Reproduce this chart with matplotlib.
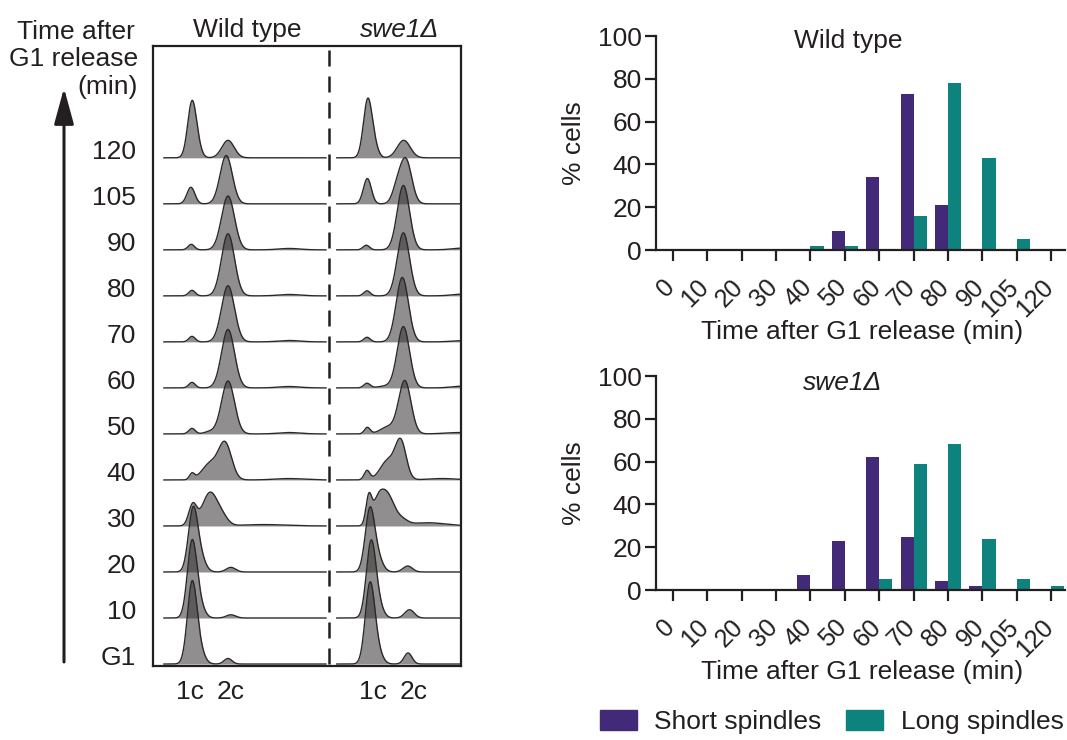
import matplotlib
matplotlib.use("Agg")
import matplotlib.pyplot as plt
import matplotlib.transforms as mtransforms
import numpy as np
from matplotlib.patches import FancyArrowPatch, Patch

plt.rcParams["font.family"] = ["Liberation Sans", "DejaVu Sans"]
plt.rcParams["font.size"] = 19
plt.rcParams["text.color"] = "#231f20"
plt.rcParams["axes.labelcolor"] = "#231f20"
plt.rcParams["xtick.color"] = "#231f20"
plt.rcParams["ytick.color"] = "#231f20"

PURPLE = "#432a78"
TEAL = "#0e827c"
INK = "#231f20"

# ---- spindle counts (% cells) per time point ----
times = ["0", "10", "20", "30", "40", "50", "60", "70", "80", "90", "105", "120"]
wt_short = [0, 0, 0, 0, 0, 9, 34, 73, 21, 0, 0, 0]
wt_long = [0, 0, 0, 0, 2, 2, 0, 16, 78, 43, 5, 0]
swe1_short = [0, 0, 0, 0, 7, 23, 62, 25, 4, 2, 0, 0]
swe1_long = [0, 0, 0, 0, 0, 0, 5, 59, 68, 24, 5, 2]

# ---- DNA content profiles, bottom row first ----
# each peak: (DNA content in c, height in row units, width in c)
profile_rows = ["G1", "10", "20", "30", "40", "50", "60", "70", "80", "90", "105", "120"]
wt_peaks = [
    [(1.0, 1.70, 0.13), (1.2, 0.30, 0.14), (2.0, 0.12, 0.11)],
    [(1.0, 1.60, 0.13), (1.2, 0.28, 0.14), (2.08, 0.07, 0.13)],
    [(1.03, 1.33, 0.13), (1.24, 0.28, 0.14), (2.08, 0.10, 0.13)],
    [(1.02, 0.45, 0.11), (1.5, 0.72, 0.21), (1.85, 0.15, 0.16), (3.0, 0.03, 0.6)],
    [(1.0, 0.13, 0.07), (1.5, 0.35, 0.22), (1.92, 0.78, 0.18), (3.7, 0.03, 0.4)],
    [(1.0, 0.12, 0.09), (1.5, 0.05, 0.15), (2.0, 1.15, 0.18), (3.7, 0.03, 0.3)],
    [(1.0, 0.12, 0.09), (2.0, 1.27, 0.18), (3.7, 0.03, 0.3)],
    [(1.0, 0.12, 0.09), (2.0, 1.22, 0.18), (3.7, 0.03, 0.3)],
    [(1.0, 0.12, 0.09), (2.0, 1.35, 0.18), (3.7, 0.03, 0.3)],
    [(0.98, 0.12, 0.09), (2.0, 1.17, 0.18), (3.7, 0.03, 0.3)],
    [(0.97, 0.36, 0.11), (1.95, 1.05, 0.17)],
    [(1.0, 1.2, 0.12), (1.17, 0.15, 0.11), (2.0, 0.38, 0.17)],
]
swe1_peaks = [
    [(1.0, 1.68, 0.13), (1.2, 0.28, 0.14), (2.06, 0.24, 0.11)],
    [(1.03, 1.58, 0.13), (1.22, 0.28, 0.14), (2.1, 0.18, 0.13)],
    [(1.0, 1.33, 0.13), (1.22, 0.28, 0.14), (2.05, 0.13, 0.13)],
    [(0.97, 0.60, 0.08), (1.2, 0.30, 0.13), (1.45, 0.72, 0.21), (1.9, 0.10, 0.16), (2.6, 0.07, 0.5)],
    [(0.92, 0.20, 0.08), (1.5, 0.42, 0.21), (1.86, 0.80, 0.15), (3.0, 0.03, 0.4)],
    [(0.93, 0.14, 0.08), (1.5, 0.15, 0.21), (1.97, 1.15, 0.17), (3.5, 0.03, 0.4)],
    [(0.92, 0.10, 0.09), (1.45, 0.04, 0.21), (1.93, 1.33, 0.17), (3.6, 0.04, 0.3)],
    [(0.92, 0.10, 0.09), (1.9, 1.40, 0.17), (3.6, 0.03, 0.3)],
    [(0.92, 0.11, 0.09), (1.93, 1.37, 0.17), (3.6, 0.04, 0.3)],
    [(0.90, 0.10, 0.09), (1.93, 1.40, 0.17), (3.6, 0.04, 0.3)],
    [(0.93, 0.55, 0.11), (1.75, 0.30, 0.13), (2.0, 0.95, 0.16)],
    [(0.94, 1.25, 0.12), (1.13, 0.20, 0.11), (1.94, 0.38, 0.18)],
]

W, H = 1067, 740
fig = plt.figure(figsize=(W / 100, H / 100), dpi=100)


def fx(px):
    return px / W


def fy(py):
    return 1 - py / H


def profile(c, peaks):
    y = np.zeros_like(c)
    for mu, h, sd in peaks:
        y += h * np.exp(-0.5 * ((c - mu) / sd) ** 2)
    return y


# ---- flow cytometry stack ----
ax = fig.add_axes([fx(153), fy(666), fx(461) - fx(153), fy(46) - fy(666)])
ax.set_xlim(-0.083, 8.47)
ax.set_ylim(-0.043, 13.43)
ax.set_xticks([])
ax.set_yticks([])
for s in ax.spines.values():
    s.set_linewidth(1.6)
    s.set_color(INK)

swe1_shift = 4.94
wt_c = np.linspace(0.22, 4.72, 600)
swe1_c = np.linspace(0.08, 3.6, 500)

for k in range(len(profile_rows)):
    for c, peaks, shift in ((wt_c, wt_peaks[k], 0.0), (swe1_c, swe1_peaks[k], swe1_shift)):
        y = profile(c, peaks)
        ax.fill_between(c + shift, k, k + y, color="#363131", alpha=0.55, lw=0, zorder=1)
        ax.plot(c + shift, k + y, color="#2b2828", lw=1.0, zorder=3)

ax.plot([4.806, 4.806], [13.35, -0.04], color=INK, lw=1.8,
        linestyle=(0, (6.4, 4)), zorder=4)

for k, lab in enumerate(profile_rows):
    ax.text(-0.556, k - 0.02, lab, ha="right", va="baseline", clip_on=False)

fig.text(fx(135), fy(39), "Time after", ha="right", va="baseline")
fig.text(fx(138), fy(66), "G1 release", ha="right", va="baseline")
fig.text(fx(138), fy(94), "(min)", ha="right", va="baseline")
fig.text(fx(247), fy(37), "Wild type", ha="center", va="baseline")
fig.text(fx(400), fy(37), "swe1Δ", ha="center", va="baseline", style="italic")
for x, lab in ((190, "1c"), (231, "2c"), (373, "1c"), (414, "2c")):
    fig.text(fx(x), fy(699), lab, ha="center", va="baseline")

fig.add_artist(FancyArrowPatch((fx(64), fy(662)), (fx(64), fy(88)),
                               transform=fig.transFigure,
                               arrowstyle="-|>,head_length=1.1,head_width=0.3",
                               mutation_scale=20, lw=2.2, color=INK,
                               shrinkA=0, shrinkB=0))

# ---- spindle bar charts ----
x = np.arange(len(times))
bw = 0.38
# rotated time labels sit a little left of and below their tick marks
label_shift = mtransforms.ScaledTranslation(-0.105, -0.25, fig.dpi_scale_trans)


def spindle_panel(rect, short, long_, title, italic):
    bax = fig.add_axes(rect)
    bax.bar(x - bw / 2, short, bw, color=PURPLE)
    bax.bar(x + bw / 2, long_, bw, color=TEAL)
    bax.set_xlim(-0.49, 11.4)
    bax.set_ylim(0, 100)
    bax.set_yticks([0, 20, 40, 60, 80, 100])
    bax.set_xticks(x)
    bax.set_xticklabels([])
    tick_trans = mtransforms.blended_transform_factory(bax.transData, bax.transAxes)
    for i, t in enumerate(times):
        bax.text(i, 0, t, transform=tick_trans + label_shift, rotation=45,
                 ha="right", va="top", rotation_mode="anchor", fontsize=18,
                 clip_on=False)
    for side in ("top", "right"):
        bax.spines[side].set_visible(False)
    for side in ("left", "bottom"):
        bax.spines[side].set_linewidth(1.6)
        bax.spines[side].set_color(INK)
    bax.tick_params(width=1.6, length=8)
    bax.tick_params(axis="y", pad=2)
    bax.set_ylabel("% cells")
    bax.set_xlabel("Time after G1 release (min)")
    bax.yaxis.set_label_coords(-0.17, 0.5)
    bax.xaxis.set_label_coords(0.504, -0.327)
    bax.text(0.469 if not italic else 0.457, 0.975 if not italic else 0.965, title,
             transform=bax.transAxes, ha="center", va="center",
             style="italic" if italic else "normal")
    return bax


ax_w = fx(1065) - fx(656)
ax_h = fy(36) - fy(250)
spindle_panel([fx(656), fy(250), ax_w, ax_h], wt_short, wt_long, "Wild type", False)
spindle_panel([fx(656), fy(590), ax_w, ax_h], swe1_short, swe1_long, "swe1Δ", True)

handles = [Patch(color=PURPLE, label="Short spindles"),
           Patch(color=TEAL, label="Long spindles")]
fig.legend(handles=handles, loc="center left", bbox_to_anchor=(fx(600), fy(722)),
           ncol=2, frameon=False, handlelength=1.4, handleheight=0.8,
           handletextpad=0.66, columnspacing=0.93, borderpad=0, borderaxespad=0)

fig.savefig("out.png", dpi=100)
